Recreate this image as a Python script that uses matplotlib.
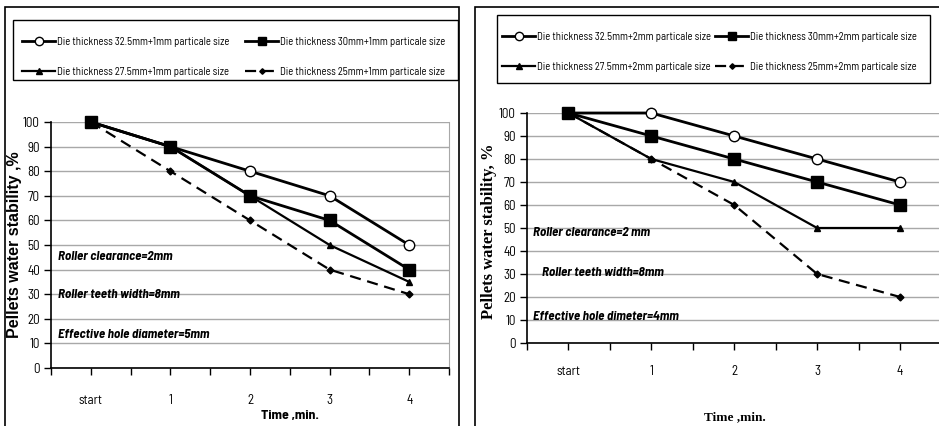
import matplotlib
matplotlib.use("Agg")
import os
import matplotlib.pyplot as plt
from matplotlib.patches import Rectangle
from matplotlib import font_manager
from matplotlib.font_manager import FontProperties

categories = ["start", "1", "2", "3", "4"]

left_labels = ["Die thickness 32.5mm+1mm particale size",
               "Die thickness 30mm+1mm particale size",
               "Die thickness 27.5mm+1mm particale size",
               "Die thickness 25mm+1mm particale size"]
left_d325 = [100, 90, 80, 70, 50]
left_d30 = [100, 90, 70, 60, 40]
left_d275 = [100, 90, 70, 50, 35]
left_d25 = [100, 80, 60, 40, 30]

right_labels = ["Die thickness 32.5mm+2mm particale size",
                "Die thickness 30mm+2mm particale size",
                "Die thickness 27.5mm+2mm particale size",
                "Die thickness 25mm+2mm particale size"]
right_d325 = [100, 100, 90, 80, 70]
right_d30 = [100, 90, 80, 70, 60]
right_d275 = [100, 80, 70, 50, 50]
right_d25 = [100, 80, 60, 30, 20]

yticks = [0, 10, 20, 30, 40, 50, 60, 70, 80, 90, 100]

left_notes = ["Roller clearance=2mm", "Roller teeth width=8mm", "Effective hole diameter=5mm"]
right_notes = ["Roller clearance=2 mm", "Roller teeth width=8mm", "Effective hole dimeter=4mm"]
ylabel_left = "Pellets water stability ,%"
ylabel_right = "Pellets water stability, %"
xlabel_text = "Time ,min."

# ---- font selection: condensed sans faces standing in for Arial Narrow ----
_files = {os.path.basename(f.fname): f.fname for f in font_manager.fontManager.ttflist}


def pick(names, fallback):
    for n in names:
        if n in _files:
            return FontProperties(fname=_files[n])
    return fallback


FP_REG = pick(["LiberationSansNarrow-Regular.ttf", "BarlowSemiCondensed-Regular.ttf",
               "DejaVuSansCondensed.ttf"], FontProperties(family="Liberation Sans"))
FP_BOLD = pick(["LiberationSansNarrow-Bold.ttf", "BarlowSemiCondensed-Bold.ttf",
                "DejaVuSansCondensed-Bold.ttf"], FontProperties(family="Liberation Sans", weight="bold"))
FP_BI = pick(["LiberationSansNarrow-BoldItalic.ttf", "BarlowSemiCondensed-BoldItalic.ttf",
              "DejaVuSansCondensed-BoldOblique.ttf"],
             FontProperties(family="Liberation Sans", weight="bold", style="italic"))

W, H = 939, 426
fig = plt.figure(figsize=(W / 100, H / 100), dpi=100)
renderer = fig.canvas.get_renderer()


def sized(fp, size):
    p = fp.copy()
    p.set_size(size)
    return p


def fit(text, target_px, fp):
    p = sized(fp, 10)
    w, h, d = renderer.get_text_width_height_descent(text, p, ismath=False)
    return 10 * target_px / w


def fx(px):
    return px / W


def fy(py):
    return 1 - py / H


styles = [
    dict(color="black", lw=2, ls="-", marker="o", ms=7.5, mfc="white", mec="black", mew=1),
    dict(color="black", lw=2, ls="-", marker="s", ms=8, mfc="black", mec="black"),
    dict(color="black", lw=1.6, ls="-", marker="^", ms=5, mfc="black", mec="black"),
    dict(color="black", lw=1.6, ls=(0, (5, 3)), marker="D", ms=3.5, mfc="black", mec="black"),
]

tick_fp = sized(FP_REG, min(fit("start", 23, FP_REG) * 1.05, 11))
leg_size = fit(left_labels[0], 172, FP_REG)
leg_fp = sized(FP_REG, leg_size)
note_fp = sized(FP_BI, fit(left_notes[2], 151, FP_BI))
xl_left_fp = sized(FP_BOLD, fit(xlabel_text, 55, FP_BOLD) * 1.05)
yl_left_fp = FontProperties(family="Liberation Sans", weight="bold", size=11.5)
yl_right_fp = FontProperties(family="Liberation Serif", weight="bold", size=12)
xl_right_fp = FontProperties(family="Liberation Serif", weight="bold", size=9.5)


def make_legend(handles, anchor, colsp, labsp, em):
    return fig.legend(handles, [h.get_label() for h in handles], ncol=2,
                      loc="upper left", bbox_to_anchor=(fx(anchor[0]), fy(anchor[1])),
                      bbox_transform=fig.transFigure, prop=leg_fp, frameon=False,
                      handlelength=33 / em, handletextpad=2 / em, columnspacing=colsp,
                      labelspacing=labsp, borderaxespad=0, borderpad=0, markerscale=0.8)


def panel(box, axbox, series, labels, legbox, leg_text_x, leg_rows, notes, notepos,
          ylabel, yl_fp, ylabel_pos, xl_fp, xlabel_pos, tickpad, rightspine):
    x0, y0, x1, y1 = box
    fig.add_artist(Rectangle((fx(x0), fy(y1)), fx(x1) - fx(x0), fy(y0) - fy(y1),
                             transform=fig.transFigure, fill=False, ec="black", lw=1.2))
    ax = fig.add_axes(axbox)
    xs = list(range(len(categories)))
    handles = []
    for vals, st, lab in zip(series, styles, labels):
        h, = ax.plot(xs, vals, label=lab, clip_on=False, zorder=3, **st)
        handles.append(h)
    ax.set_xlim(-0.5, len(categories) - 0.5)
    ax.set_ylim(0, 100)
    ax.set_yticks(yticks)
    ax.set_yticklabels([str(v) for v in yticks], fontproperties=tick_fp)
    ax.set_xticks(xs)
    ax.set_xticklabels(categories, fontproperties=tick_fp)
    ax.set_xticks([i - 0.5 for i in range(len(categories) + 1)], minor=True)
    ax.tick_params(axis="x", which="major", length=5, width=1, direction="out", pad=tickpad)
    ax.tick_params(axis="x", which="minor", length=5, width=1, direction="out")
    ax.tick_params(axis="y", length=5, width=1, direction="out", pad=3)
    ax.grid(axis="y", color="#a8a8a8", lw=1)
    ax.set_axisbelow(True)
    ax.spines["top"].set_visible(False)
    ax.spines["right"].set_visible(rightspine)
    ax.spines["right"].set_color("#a8a8a8")
    ax.spines["left"].set_linewidth(1.2)
    ax.spines["bottom"].set_linewidth(1.2)
    # legend box
    lx0, ly0, lx1, ly1 = legbox
    fig.add_artist(Rectangle((fx(lx0), fy(ly1)), fx(lx1) - fx(lx0), fy(ly0) - fy(ly1),
                             transform=fig.transFigure, fill=False, ec="black", lw=1))
    em = leg_size * 100 / 72
    order = [handles[0], handles[2], handles[1], handles[3]]
    anchor = [leg_text_x[0] - 35, leg_rows[0] - 6]
    colsp, labsp = 1.0, 1.0
    for _ in range(3):
        leg = make_legend(order, anchor, colsp, labsp, em)
        fig.canvas.draw()
        texts = leg.get_texts()
        e0 = texts[0].get_window_extent(renderer)
        e1 = texts[1].get_window_extent(renderer)
        e2 = texts[2].get_window_extent(renderer)
        c0 = H - (e0.y0 + e0.y1) / 2
        c1 = H - (e1.y0 + e1.y1) / 2
        dx = leg_text_x[0] - e0.x0
        dcol = (leg_text_x[1] - e2.x0) - dx
        dy = leg_rows[0] - c0
        drow = (leg_rows[1] - leg_rows[0]) - (c1 - c0)
        leg.remove()
        anchor = [anchor[0] + dx, anchor[1] + dy]
        colsp += dcol / em
        labsp += drow / em
    make_legend(order, anchor, colsp, labsp, em)
    for (nx, ny), t in zip(notepos, notes):
        fig.text(fx(nx), fy(ny), t, fontproperties=note_fp, ha="left", va="center")
    fig.text(fx(ylabel_pos[0]), fy(ylabel_pos[1]), ylabel, rotation=90, ha="center", va="center",
             fontproperties=yl_fp)
    fig.text(fx(xlabel_pos[0]), fy(xlabel_pos[1]), xlabel_text, ha="center", va="center",
             fontproperties=xl_fp)
    return ax


panel(box=(5, 7, 459, 440),
      axbox=[fx(51), fy(368), fx(449) - fx(51), fy(122) - fy(368)],
      series=[left_d325, left_d30, left_d275, left_d25], labels=left_labels,
      legbox=(13, 20, 458, 80), leg_text_x=(57, 280), leg_rows=(42, 72),
      notes=left_notes, notepos=[(58, 257), (58, 295), (58, 335)],
      ylabel=ylabel_left, yl_fp=yl_left_fp, ylabel_pos=(15, 245),
      xl_fp=xl_left_fp, xlabel_pos=(290, 415), tickpad=14, rightspine=True)

panel(box=(475, 7, 960, 440),
      axbox=[fx(527), fy(343), fx(941.5) - fx(527), fy(113) - fy(343)],
      series=[right_d325, right_d30, right_d275, right_d25], labels=right_labels,
      legbox=(497, 15, 930, 83), leg_text_x=(537, 750), leg_rows=(37, 67),
      notes=right_notes, notepos=[(533, 233), (542, 273), (533, 317)],
      ylabel=ylabel_right, yl_fp=yl_right_fp, ylabel_pos=(489, 231),
      xl_fp=xl_right_fp, xlabel_pos=(735, 417), tickpad=11, rightspine=False)

fig.savefig("out.png", dpi=100)
